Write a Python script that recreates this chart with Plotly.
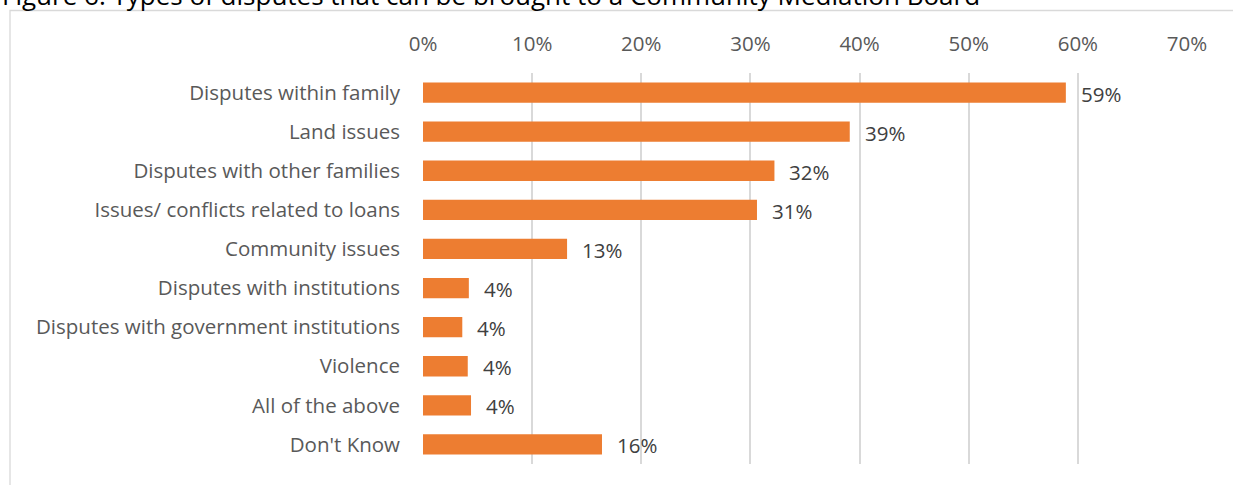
import plotly.graph_objects as go

categories = [
    "Disputes within family",
    "Land issues",
    "Disputes with other families",
    "Issues/ conflicts related to loans",
    "Community issues",
    "Disputes with institutions",
    "Disputes with government institutions",
    "Violence",
    "All of the above",
    "Don't Know",
]
shares = [0.589, 0.391, 0.322, 0.306, 0.132, 0.042, 0.036, 0.041, 0.044, 0.164]
tick_values = [0, 0.1, 0.2, 0.3, 0.4, 0.5, 0.6, 0.7]
tick_labels = ["0%", "10%", "20%", "30%", "40%", "50%", "60%", "70%"]
title_text = "Figure 6: Types of disputes that can be brought to a Community Mediation Board"

W, H = 1233, 485
L, R, T, B = 423, 46, 73, 21
plot_w = W - L - R
plot_h = H - T - B

FONT = "Open Sans"
BAR = "#ED7D31"
GRID = "#D9D9D9"
FS = 20.5

fig = go.Figure(
    go.Bar(
        x=shares,
        y=categories,
        orientation="h",
        marker=dict(color=BAR, line=dict(width=0)),
        hoverinfo="skip",
    )
)

# value labels to the right of each bar
for cat, v in zip(categories, shares):
    fig.add_annotation(
        x=v, y=cat, xref="x", yref="y",
        text=f"{v:.0%}",
        showarrow=False, xanchor="left", yanchor="middle",
        xshift=13, yshift=-1,
        font=dict(family=FONT, size=FS, color="#404040"),
    )

# figure caption above the chart frame
fig.add_annotation(
    x=-(L - 0) / plot_w, y=(plot_h + T - 15) / plot_h,
    xref="paper", yref="paper",
    text=title_text, showarrow=False,
    xanchor="left", yanchor="bottom",
    font=dict(family=FONT, size=26, color="#000000"),
)

# chart frame
fig.add_shape(
    type="rect", xref="paper", yref="paper",
    x0=-(L - 10) / plot_w, x1=1.2,
    y0=-0.2, y1=(plot_h + T - 10.5) / plot_h,
    line=dict(color=GRID, width=1.3), fillcolor="rgba(0,0,0,0)",
    layer="below",
)

fig.update_layout(
    width=W, height=H,
    margin=dict(l=L, r=R, t=T, b=B, pad=0),
    paper_bgcolor="white", plot_bgcolor="white",
    bargap=0.48,
    showlegend=False,
    font=dict(family=FONT, size=FS, color="#595959"),
    xaxis=dict(
        side="top", range=[0, 0.7],
        tickvals=tick_values, ticktext=tick_labels,
        showgrid=True, gridcolor=GRID, gridwidth=1.5,
        zeroline=False, showline=False,
        ticks="", ticklabelstandoff=17,
        tickfont=dict(family=FONT, size=FS, color="#595959"),
        fixedrange=True,
    ),
    yaxis=dict(
        categoryorder="array", categoryarray=categories,
        autorange="reversed",
        showgrid=False, zeroline=False, showline=False,
        ticks="", ticklabelstandoff=22,
        tickfont=dict(family=FONT, size=FS, color="#595959"),
        fixedrange=True,
    ),
)

fig.write_html("out.html")
